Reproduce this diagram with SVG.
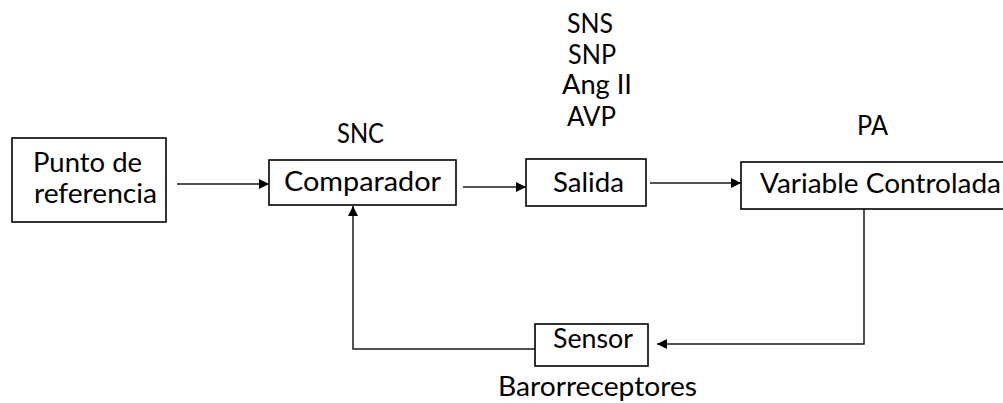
<svg xmlns="http://www.w3.org/2000/svg" width="1003" height="403" viewBox="0 0 1003 403">
  <style>
    .box { fill: #ffffff; stroke: #000000; stroke-width: 1.6; }
    .lbl { font-family: Lato, "Open Sans", "Liberation Sans", sans-serif; font-size: 26px; fill: #000000; }
    .wire { fill: none; stroke: #1a1a1a; stroke-width: 1.5; }
  </style>
  <defs>
    <marker id="arrow" viewBox="0 0 10 10" refX="10" refY="5" markerWidth="11" markerHeight="10" markerUnits="userSpaceOnUse" orient="auto">
      <path d="M0,0 L10,5 L0,10 Z" fill="#000000"/>
    </marker>
  </defs>

  <rect width="1003" height="403" fill="#ffffff"/>

  <!-- connectors -->
  <g id="connectors">
    <path class="wire" d="M177,184 H269" marker-end="url(#arrow)"/>
    <path class="wire" d="M463,187 H526" marker-end="url(#arrow)"/>
    <path class="wire" d="M650,183 H741" marker-end="url(#arrow)"/>
    <path class="wire" d="M864,209 V344 H657" marker-end="url(#arrow)"/>
    <path class="wire" d="M535,349 H353 V206" marker-end="url(#arrow)"/>
  </g>

  <!-- set point -->
  <g id="punto-referencia">
    <rect class="box" x="12" y="138" width="154" height="84"/>
    <text class="lbl" x="33" y="172" textLength="109" lengthAdjust="spacingAndGlyphs">Punto de</text>
    <text class="lbl" x="34" y="203" textLength="123" lengthAdjust="spacingAndGlyphs">referencia</text>
  </g>

  <!-- comparator -->
  <g id="comparador">
    <text class="lbl" x="337" y="143" textLength="47" lengthAdjust="spacingAndGlyphs">SNC</text>
    <rect class="box" x="269" y="160" width="187" height="45"/>
    <text class="lbl" x="284" y="191" textLength="157" lengthAdjust="spacingAndGlyphs">Comparador</text>
  </g>

  <!-- output -->
  <g id="salida">
    <text class="lbl" x="567" y="33" textLength="46" lengthAdjust="spacingAndGlyphs">SNS</text>
    <text class="lbl" x="568" y="64" textLength="48" lengthAdjust="spacingAndGlyphs">SNP</text>
    <text class="lbl" x="562" y="94" textLength="70" lengthAdjust="spacingAndGlyphs">Ang II</text>
    <text class="lbl" x="567" y="126" textLength="49" lengthAdjust="spacingAndGlyphs">AVP</text>
    <rect class="box" x="526" y="159" width="120" height="47"/>
    <text class="lbl" x="553" y="192" textLength="71" lengthAdjust="spacingAndGlyphs">Salida</text>
  </g>

  <!-- controlled variable -->
  <g id="variable-controlada">
    <text class="lbl" x="857" y="135" textLength="31" lengthAdjust="spacingAndGlyphs">PA</text>
    <rect class="box" x="741" y="162" width="280" height="47"/>
    <text class="lbl" x="760" y="193" textLength="241" lengthAdjust="spacingAndGlyphs">Variable Controlada</text>
  </g>

  <!-- sensor -->
  <g id="sensor">
    <rect class="box" x="535" y="324" width="113" height="42"/>
    <text class="lbl" x="553" y="348" textLength="80" lengthAdjust="spacingAndGlyphs">Sensor</text>
    <text class="lbl" x="498" y="396" textLength="199" lengthAdjust="spacingAndGlyphs">Barorreceptores</text>
  </g>
</svg>
